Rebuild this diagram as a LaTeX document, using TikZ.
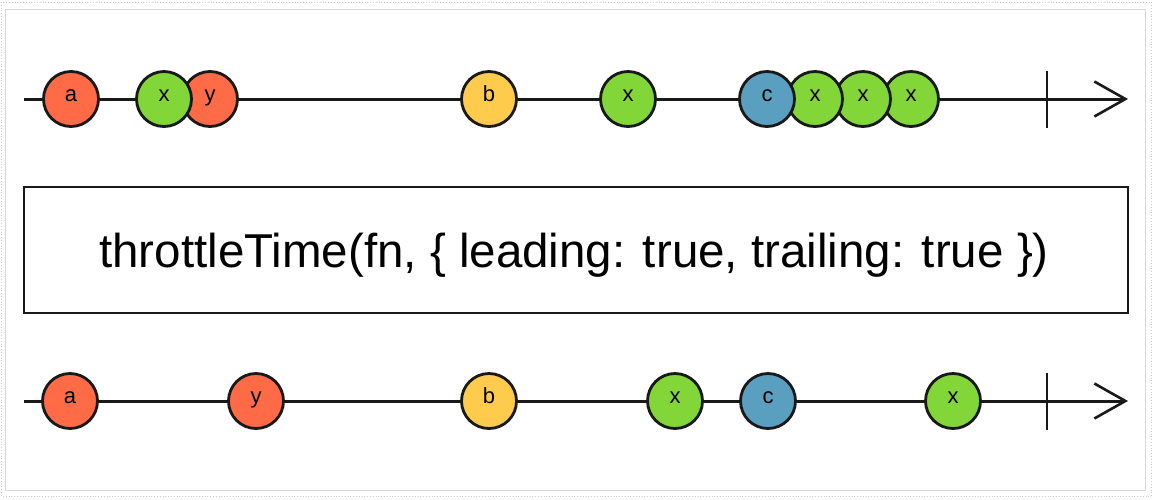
\documentclass[tikz,border=0pt]{standalone}
\usepackage{fontspec}
\setmainfont{Liberation Sans}
\usepackage{tikz}
\usetikzlibrary{arrows.meta}
\usepackage[dvipsnames]{xcolor}

\definecolor{marbleRed}{HTML}{FF6B47}
\definecolor{marbleGreen}{HTML}{82D638}
\definecolor{marbleYellow}{HTML}{FFCB4C}
\definecolor{marbleBlue}{HTML}{5A9FBF}

\begin{document}
\begin{tikzpicture}[x=1pt,y=-1pt,
    marble/.style={circle,draw=black!90,line width=2.8pt,minimum size=55pt,inner sep=0pt,
      font=\fontsize{22}{22}\selectfont,text height=1ex,text depth=0pt},
    timeline/.style={line width=3pt,draw=black!90,-{Straight Barb[length=31pt,width=35pt,line width=2.6pt]}},
    stopline/.style={line width=2.6pt,draw=black!90}]
    \useasboundingbox (0,0) rectangle (1155,499);
    \draw[black!15,line width=0.8pt] (5,9) rectangle (1145,490);
    \draw[black!20,line width=0.8pt,dotted] (1.5,2) rectangle (1151,496);

    % source stream
    \coordinate (src start) at (24,99);
    \coordinate (src end) at (1128,99);
    \coordinate (src stop) at (1047,99);
    \draw[timeline] (src start) -- (src end);
    \draw[stopline] ([yshift=28pt]src stop) -- ([yshift=-29pt]src stop);

    \node[marble,fill=marbleGreen] (src x5) at (911,99) {x};
    \node[marble,fill=marbleGreen] (src x4) at (863,99) {x};
    \node[marble,fill=marbleGreen] (src x3) at (815,99) {x};
    \node[marble,fill=marbleBlue] (src c) at (767,99) {c};
    \node[marble,fill=marbleGreen] (src x2) at (628,99) {x};
    \node[marble,fill=marbleYellow] (src b) at (489,99) {b};
    \node[marble,fill=marbleRed] (src y) at (210,99) {y};
    \node[marble,fill=marbleGreen] (src x1) at (164,99) {x};
    \node[marble,fill=marbleRed] (src a) at (71,99) {a};

    % operator
    \node[draw=black!90,line width=2.6pt,minimum width=1104pt,minimum height=126pt,inner sep=0pt] (op) at (576,250) {};
    \node[anchor=base,font=\fontsize{47.5}{48}\selectfont] (op label) at (574,267) {throttleTime(fn, \{ leading: true, trailing: true \})};

    % result stream
    \coordinate (res start) at (24,401);
    \coordinate (res end) at (1128,401);
    \coordinate (res stop) at (1047,401);
    \draw[timeline] (res start) -- (res end);
    \draw[stopline] ([yshift=28pt]res stop) -- ([yshift=-29pt]res stop);

    \node[marble,fill=marbleGreen] (res x2) at (953,401) {x};
    \node[marble,fill=marbleBlue] (res c) at (768,401) {c};
    \node[marble,fill=marbleGreen] (res x1) at (675,401) {x};
    \node[marble,fill=marbleYellow] (res b) at (489,401) {b};
    \node[marble,fill=marbleRed] (res y) at (256,401) {y};
    \node[marble,fill=marbleRed] (res a) at (70,401) {a};
\end{tikzpicture}
\end{document}
